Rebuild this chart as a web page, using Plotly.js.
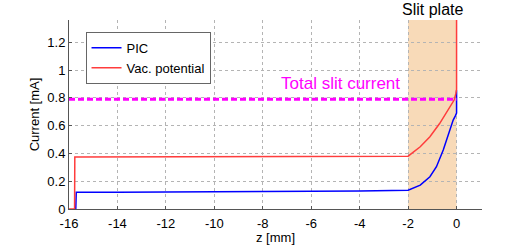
<!DOCTYPE html>
<html>
<head>
<meta charset="utf-8">
<script src="https://cdn.plot.ly/plotly-3.0.1.min.js"></script>
<style>html,body{margin:0;padding:0;background:#fff;}#chart{width:532px;height:245px;}</style>
</head>
<body>
<div id="chart"></div>
<script>
// PIC simulation current along z
const picZ = [-15.72, -15.71, -15.70, -14, -12, -10, -8, -6, -4, -2, -1.5, -1.1, -0.83, -0.55, -0.28, -0.14, -0.05, 0, 0];
const picI = [0, 0.03, 0.12, 0.121, 0.122, 0.124, 0.125, 0.127, 0.13, 0.135, 0.172, 0.232, 0.304, 0.424, 0.568, 0.64, 0.67, 0.69, 0.855];
// Vacuum potential current along z
const vacZ = [-16, -15.77, -15.76, -14, -12, -10, -8, -6, -4, -2, -1.5, -1.1, -0.7, -0.3, -0.1, -0.03, 0, 0];
const vacI = [0, 0, 0.375, 0.375, 0.376, 0.376, 0.377, 0.377, 0.378, 0.38, 0.448, 0.52, 0.615, 0.725, 0.784, 0.83, 0.86, 1.36];
// Total slit current level
const totalZ = [-16, 0];
const totalI = [0.79, 0.79];
// Slit plate region
const slitZ = [-2, 0];
// Ticks
const xTickVals = [-16, -14, -12, -10, -8, -6, -4, -2, 0];
const xTickText = ["-16", "-14", "-12", "-10", "-8", "-6", "-4", "-2", "0"];
const yTickVals = [0, 0.2, 0.4, 0.6, 0.8, 1, 1.2];
const yTickText = ["0", "0.2", "0.4", "0.6", "0.8", "1", "1.2"];

const font = "Liberation Sans, Arial, sans-serif";

const traces = [
  {x: picZ, y: picI, type: "scatter", mode: "lines", name: "PIC",
   line: {color: "rgb(0,0,255)", width: 1.5}},
  {x: vacZ, y: vacI, type: "scatter", mode: "lines", name: "Vac. potential",
   line: {color: "rgb(255,60,60)", width: 1.5}},
  {x: totalZ, y: totalI, type: "scatter", mode: "lines", name: "Total slit current",
   showlegend: false, line: {color: "rgb(255,0,255)", width: 3, dash: "6px,3px"}}
];

const layout = {
  width: 532, height: 245,
  margin: {l: 69, r: 50, t: 20, b: 36},
  paper_bgcolor: "#fff", plot_bgcolor: "#fff",
  font: {family: font, size: 13, color: "#000"},
  showlegend: true,
  legend: {x: 0.04, y: 0.937, xanchor: "left", yanchor: "top",
           bgcolor: "#fff", bordercolor: "#666", borderwidth: 1,
           font: {family: font, size: 13, color: "#000"}, itemwidth: 30, tracegroupgap: 0},
  xaxis: {range: [-16, 1.05], tickvals: xTickVals, ticktext: xTickText,
          showgrid: true, gridcolor: "#b4b4b4", griddash: "dot", gridwidth: 1,
          zeroline: false, showline: true, linecolor: "#555", linewidth: 1,
          ticks: "inside", ticklen: 3, tickcolor: "#555", ticklabelstandoff: 2,
          automargin: false,
          tickfont: {family: font, size: 13, color: "#000"},
          title: {text: "z [mm]", font: {family: font, size: 13, color: "#000"}}},
  yaxis: {range: [0, 1.36], tickvals: yTickVals, ticktext: yTickText,
          showgrid: true, gridcolor: "#b4b4b4", griddash: "dot", gridwidth: 1,
          zeroline: false, showline: true, linecolor: "#555", linewidth: 1,
          ticks: "inside", ticklen: 3, tickcolor: "#555",
          automargin: true,
          tickfont: {family: font, size: 13, color: "#000"},
          title: {text: "Current [mA]", font: {family: font, size: 13, color: "#000"}, standoff: 4}},
  shapes: [
    {type: "rect", xref: "x", yref: "paper", x0: slitZ[0], x1: slitZ[1], y0: 0, y1: 1,
     fillcolor: "rgb(248,218,184)", line: {width: 0}, layer: "between"}
  ],
  annotations: [
    {x: (slitZ[0] + slitZ[1]) / 2, y: 1, xref: "x", yref: "paper", yanchor: "top", yshift: 20,
     text: "Slit plate", showarrow: false, borderpad: 0, font: {family: font, size: 16, color: "#000"}},
    {x: -4.8, y: 0.9, xref: "x", yref: "y", text: "Total slit current", showarrow: false,
     font: {family: font, size: 17, color: "rgb(255,0,255)"}}
  ]
};

Plotly.newPlot("chart", traces, layout, {displayModeBar: false, staticPlot: true});
</script>
</body>
</html>
